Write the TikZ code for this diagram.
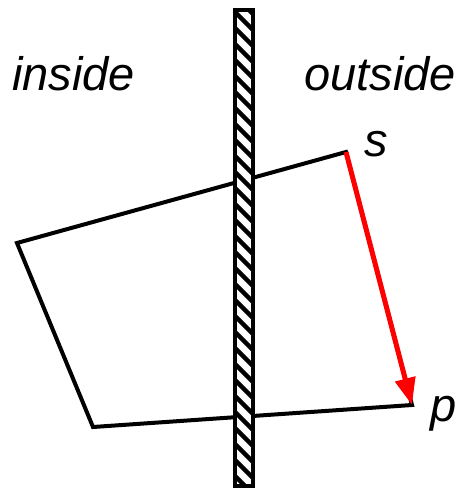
\documentclass[tikz,border=0pt]{standalone}
\usepackage{fontspec}
\setmainfont{Liberation Sans}
\usetikzlibrary{arrows.meta}
\begin{document}
\begin{tikzpicture}[x=1pt,y=-1pt,
  edge/.style={line width=4pt,black},
  lbl/.style={font=\fontsize{47}{51}\selectfont\itshape,inner sep=0pt,anchor=base west},
  vec/.style={line width=5pt,red,-{Triangle[length=27pt,width=20pt]}}]
\useasboundingbox (0,0) rectangle (462,490);
\coordinate (s) at (346,152);
\coordinate (a) at (17,243);
\coordinate (b) at (93,427);
\coordinate (p) at (412,405);
\draw[edge] (s) -- (a) -- (b) -- (p) -- cycle;
\draw[vec] (s) -- (p);
% wall
\fill[white] (235,10) rectangle (253,486);
\begin{scope}
\clip (235,10) rectangle (253,486);
\foreach \y in {-30,-14,...,500} {
  \draw[line width=4.5pt] (225,\y) -- ++(40,40);
}
\end{scope}
\draw[line width=4pt] (235,10) rectangle (253,486);
\node[lbl] (in) at (12,90) {inside};
\node[lbl] (out) at (304,90) {outside};
\node[lbl] (sl) at (364,156) {s};
\node[lbl] (pl) at (430,421) {p};
\end{tikzpicture}
\end{document}
